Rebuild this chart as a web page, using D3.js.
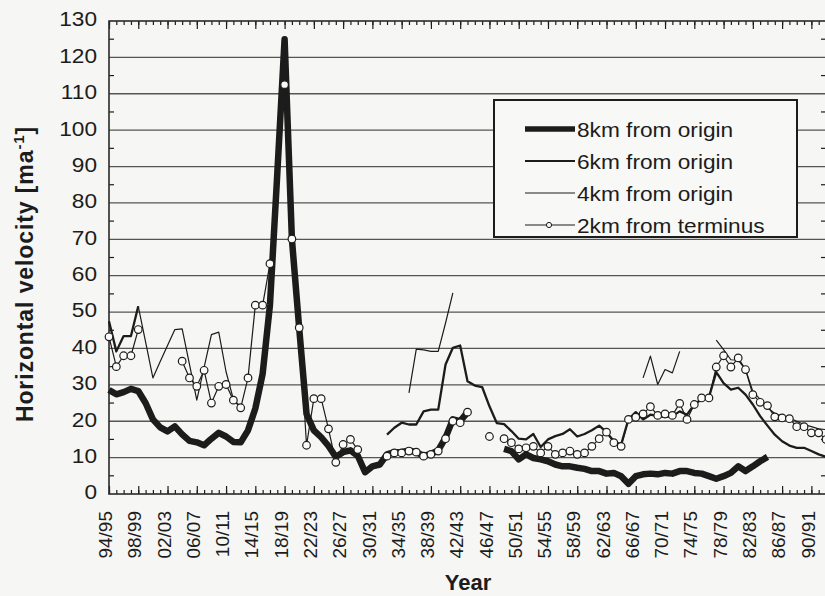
<!DOCTYPE html>
<html>
<head>
<meta charset="utf-8">
<script src="https://cdn.jsdelivr.net/npm/d3@7"></script>
<style>
    body { margin: 0; background: #f6f6f4; }
    svg { display: block; font-family: "Liberation Sans", Arial, sans-serif; }
</style>
</head>
<body>
<svg id="chart" width="825" height="596"></svg>
<script>
// tick labels on the year axis (one every 4 years)
const xLabels = ["94/95", "98/99", "02/03", "06/07", "10/11", "14/15", "18/19", "22/23", "26/27",
    "30/31", "34/35", "38/39", "42/43", "46/47", "50/51", "54/55", "58/59", "62/63", "66/67",
    "70/71", "74/75", "78/79", "82/83", "86/87", "90/91"];
const yTicks = [0, 10, 20, 30, 40, 50, 60, 70, 80, 90, 100, 110, 120, 130];

// each series: [first year, yearly values]
const km8 = [
    [1894, [28.6, 27.4, 28, 28.9, 28.3, 25, 20.5, 18.3, 17.2, 18.6, 16.4, 14.6, 14.2, 13.4, 15.2, 16.8,
        15.8, 14.3, 14.2, 17.5, 23.5, 33, 52, 88, 125, 70, 45.5, 22, 17.5, 15.6, 13.2, 10.2, 11.5, 12,
        10.5, 6, 7.6, 8.1, 10.9, 11.5, 11.5, 12, 11.5, 10.5, 11, 12, 15.5, 20.5, 20, 22.5]],
    [1948, [12.4, 11.8, 9.5, 10.9, 9.9, 9.5, 9, 8.1, 7.6, 7.6, 7.2, 6.9, 6.3, 6.3, 5.6, 5.8, 4.9, 2.8,
        4.9, 5.4, 5.6, 5.4, 5.8, 5.6, 6.3, 6.3, 5.8, 5.6, 4.9, 4.2, 4.9, 5.8, 7.6, 6.3, 7.6, 9, 10.2]]
];
const km6 = [
    [1894, [47.5, 39.2, 43.4, 43.4, 51.6]],
    [1932, [16.3, 18.2, 19.6, 19.1, 19.1, 22.7, 23.2, 23.2, 35.6, 40.2, 40.8, 31, 29.8, 29.4, 24.1,
        19.5, 19.2, 17.3, 15.2, 15, 16.5, 12.9, 15, 15.9, 16.5, 17.8, 15.8, 16.5, 17.5, 18.8, 17, 14.5,
        13.6, 20.5, 22.5, 20.5, 21.8, 21.4, 21.1, 21.4, 22.7, 21.8, 24.6, 26, 26.6, 33.5, 30.5, 28.7,
        29.2, 27.3, 24.6, 21.4, 18.8, 16.3, 14.5, 13.3, 12.7, 12.7, 11.8, 10.9, 10.2]]
];
const km4 = [
    [1898, [51.6, 41.8, 31.9, 36.4, 40.8, 45.2, 45.4, 35.6, 25.8, 34.8, 43.8, 44.5, 33.6, 26, 24]],
    [1935, [27.8, 39.8, 39.6, 39.2, 39.2, 47, 55.3]],
    [1967, [31.9, 37.9, 30.1, 34.2, 33.3, 39.2]],
    [1977, [42.3, 39.7, 36.9, 36.8, 34.2, 28.2, 26, 23.7, 22.1, 21.4, 20.9, 20, 19.1, 18.5, 17.9, 17.7]]
];
const km2 = [
    [1894, [43.2, 35, 38, 38, 45.2]],
    [1904, [36.5, 31.9, 29.6, 34, 25, 29.6, 30.1, 25.8, 23.7, 31.9, 51.9, 51.9, 63.3]],
    [1918, [112.5, 70.1, 45.7, 13.4, 26.2, 26.2, 17.9, 8.7, 13.6, 15, 12.2]],
    [1932, [10.4, 11.3, 11.3, 11.8, 11.5, 10.4, 10.9, 11.8, 15.2, 20, 19.6, 22.5]],
    [1946, [15.8]],
    [1948, [15.2, 14.1, 12.4, 12.7, 13.1, 11.3, 13.1, 10.9, 11.3, 11.8, 10.9, 11.3, 13.1, 15.2, 17,
        14.1, 13.1, 20.5, 21.1, 22, 24, 21.6, 22, 21.6, 24.9, 20.5, 24.6, 26.4, 26.4, 34.9, 38, 34.9,
        37.4, 34.2, 27.3, 25.2, 24.3, 21.2, 20.9, 20.7, 18.5, 18.5, 16.8, 16.8, 15]]
];
const legendNames = ["8km from origin", "6km from origin", "4km from origin", "2km from terminus"];

const ink = "#1c1c1c";
const svg = d3.select("#chart");

const plotLeft = 109, plotRight = 826, plotTop = 21, plotBottom = 494;
const x = d3.scaleLinear().domain([1894, 1992]).range([plotLeft, plotRight]);
const y = d3.scaleLinear().domain([0, 130]).range([plotBottom, plotTop]);

const allYears = d3.range(1894, 1993);
const majorYears = d3.range(1894, 1991, 4);

// gridlines
svg.append("g").selectAll("line").data(yTicks.filter(d => d > 0 && d < 130)).join("line")
    .attr("x1", plotLeft).attr("x2", plotRight).attr("y1", d => y(d)).attr("y2", d => y(d))
    .attr("stroke", "#555").attr("stroke-width", 1.3);

// minor ticks at the 5s, on both sides
const fives = d3.range(5, 130, 10);
svg.append("g").selectAll("line").data(fives).join("line")
    .attr("x1", plotLeft).attr("x2", plotLeft + 5).attr("y1", d => y(d)).attr("y2", d => y(d))
    .attr("stroke", ink).attr("stroke-width", 1.2);
svg.append("g").selectAll("line").data(fives).join("line")
    .attr("x1", plotRight - 5).attr("x2", plotRight).attr("y1", d => y(d)).attr("y2", d => y(d))
    .attr("stroke", ink).attr("stroke-width", 1.2);

// year ticks, bottom and top, pointing inward
const bottomMinor = svg.append("g").attr("transform", `translate(0,${plotBottom})`)
    .call(d3.axisBottom(x).tickValues(allYears).tickSize(-4).tickFormat(""));
const bottomMajor = svg.append("g").attr("transform", `translate(0,${plotBottom})`)
    .call(d3.axisBottom(x).tickValues(majorYears).tickSize(-8).tickFormat((d, i) => xLabels[i]));
const topMinor = svg.append("g").attr("transform", `translate(0,${plotTop})`)
    .call(d3.axisTop(x).tickValues(allYears).tickSize(-4).tickFormat(""));
const topMajor = svg.append("g").attr("transform", `translate(0,${plotTop})`)
    .call(d3.axisTop(x).tickValues(majorYears).tickSize(-8).tickFormat(""));
[bottomMinor, bottomMajor, topMinor, topMajor].forEach(g => {
    g.select(".domain").remove();
    g.selectAll(".tick line").attr("stroke", ink).attr("stroke-width", 1.2);
});
bottomMajor.selectAll(".tick text")
    .attr("transform", "rotate(-90)")
    .attr("text-anchor", "end")
    .attr("x", -17).attr("y", -4).attr("dy", "0.35em")
    .attr("font-size", 19).attr("fill", ink)
    .attr("font-family", "Liberation Sans, Arial, sans-serif");

// y tick labels
svg.append("g").selectAll("text").data(yTicks).join("text")
    .attr("transform", d => `translate(97,${y(d) - 2}) scale(1.08,1)`)
    .attr("text-anchor", "end").attr("dy", "0.35em")
    .attr("font-size", 21).attr("fill", ink)
    .text(d => d);

// frame
svg.append("rect").attr("x", plotLeft).attr("y", plotTop)
    .attr("width", plotRight - plotLeft).attr("height", plotBottom - plotTop)
    .attr("fill", "none").attr("stroke", "#2a2a2a").attr("stroke-width", 1.6);

// series
const line = d3.line().x(d => x(d[0])).y(d => y(d[1]));
const toPoints = seg => seg[1].map((v, i) => [seg[0] + i, v]);

function drawSeries(segments, width) {
    svg.append("g").selectAll("path").data(segments).join("path")
        .attr("d", s => line(toPoints(s)))
        .attr("fill", "none").attr("stroke", ink).attr("stroke-width", width)
        .attr("stroke-linejoin", "round").attr("stroke-linecap", "butt");
}
drawSeries(km6, 2.3);
drawSeries(km4, 1.2);
drawSeries(km8, 6.5);
drawSeries(km2, 1.2);

svg.append("g").selectAll("circle").data(km2.flatMap(toPoints)).join("circle")
    .attr("cx", d => x(d[0])).attr("cy", d => y(d[1])).attr("r", 3.8)
    .attr("fill", "#fbfbfa").attr("stroke", ink).attr("stroke-width", 1.2);

// legend
const legend = svg.append("g");
legend.append("rect").attr("x", 494).attr("y", 100).attr("width", 303).attr("height", 137)
    .attr("fill", "#f8f8f6").attr("stroke", ink).attr("stroke-width", 2);
const widths = [5.5, 2.2, 1.1, 1.2];
legendNames.forEach((name, i) => {
    const by = 137 + i * 32;
    legend.append("line").attr("x1", 525).attr("x2", 575).attr("y1", by - 8).attr("y2", by - 8)
        .attr("stroke", ink).attr("stroke-width", widths[i]);
    if (i === 3) {
        legend.append("circle").attr("cx", 549).attr("cy", by - 8).attr("r", 2.6)
            .attr("fill", "#f8f8f6").attr("stroke", ink).attr("stroke-width", 1);
    }
    legend.append("text").attr("transform", `translate(577,${by}) scale(1.08,1)`)
        .attr("font-size", 21).attr("fill", ink).text(name);
});

// axis titles
svg.append("text").attr("x", 468).attr("y", 590).attr("text-anchor", "middle")
    .attr("font-size", 22).attr("font-weight", "bold").attr("fill", ink).text("Year");

const yTitle = svg.append("text").attr("transform", "translate(33,274) rotate(-90)")
    .attr("text-anchor", "middle").attr("font-size", 23).attr("letter-spacing", 0.9)
    .attr("font-weight", "bold").attr("fill", ink);
yTitle.append("tspan").text("Horizontal velocity [ma");
yTitle.append("tspan").attr("font-size", 15).attr("dy", -9).text("-1");
yTitle.append("tspan").attr("dy", 9).text("]");
</script>
</body>
</html>
